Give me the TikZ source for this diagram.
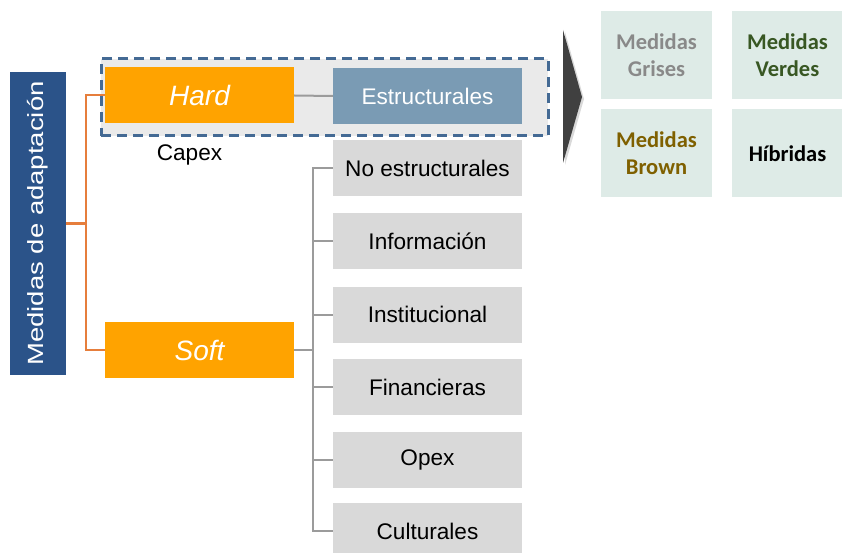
\documentclass[tikz,border=0pt]{standalone}
\usepackage{fontspec}
\setmainfont{Liberation Sans}
\newfontfamily\calibri{Carlito}
\usepackage{tikz}
\usetikzlibrary{shadows}
\definecolor{azulTitulo}{RGB}{43,83,137}
\definecolor{naranja}{RGB}{255,163,0}
\definecolor{naranjaLinea}{RGB}{230,126,60}
\definecolor{azulGris}{RGB}{122,155,180}
\definecolor{grisCaja}{RGB}{217,217,217}
\definecolor{grisFondo}{RGB}{234,234,234}
\definecolor{azulRaya}{RGB}{68,106,148}
\definecolor{grisLinea}{RGB}{155,155,155}
\definecolor{verdeAgua}{RGB}{222,235,231}
\definecolor{textoGris}{RGB}{137,137,137}
\definecolor{textoVerde}{RGB}{56,87,35}
\definecolor{textoMarron}{RGB}{127,96,0}
\definecolor{grisFlecha}{RGB}{64,64,64}

\begin{document}
\begin{tikzpicture}[x=1pt,y=-1pt,
  titulo/.style={fill=azulTitulo,text=white,minimum width=303pt,minimum height=56pt,
    inner sep=0pt,font=\fontsize{22}{26}\selectfont},
  tipo/.style={fill=naranja,text=white,minimum width=189pt,minimum height=56pt,
    inner sep=0pt,font=\fontsize{28}{32}\selectfont\itshape},
  caja/.style={fill=grisCaja,minimum width=189pt,minimum height=56pt,
    inner sep=0pt,font=\fontsize{22.6}{27}\selectfont},
  medida/.style={fill=verdeAgua,minimum width=111pt,minimum height=88pt,align=center,
    inner sep=0pt,font=\fontsize{22.5}{27}\selectfont\calibri\bfseries},
  ramaNaranja/.style={draw=naranjaLinea,line width=2pt},
  ramaGris/.style={draw=grisLinea,line width=2pt}]
\useasboundingbox (0,0) rectangle (842,553);
\clip (0,0) rectangle (842,553);

\node[titulo,rotate=90] (titulo) at (38,223.5) {\scalebox{1.25}[1]{Medidas de adaptación}};

\node[fill=grisFondo,draw=azulRaya,line width=3pt,dash pattern=on 10pt off 6pt,
  minimum width=447pt,minimum height=77pt] (grupo) at (324.5,97.5) {};
\node[tipo] (hard) at (199.5,95.5) {Hard};
\node[caja,fill=azulGris,text=white] (estr) at (427.5,96) {Estructurales};
\node[font=\fontsize{22.6}{27}\selectfont] (capex) at (189.5,155) {Capex};
\node[tipo] (soft) at (199.5,350) {Soft};

\node[caja] (noest) at (427.5,168.5) {No estructurales};
\node[caja] (info) at (427.5,241) {Información};
\node[caja] (inst) at (427.5,314.5) {Institucional};
\node[caja] (fin) at (427.5,387) {Financieras};
\node[caja] (opex) at (427.5,459.5) {Opex};
\node[caja] (cult) at (427.5,531) {Culturales};

\draw[ramaNaranja] (titulo.south) -- ++(20,0);
\draw[ramaNaranja] (hard.west) -- ++(-19,0) |- (soft.west);
\draw[ramaGris] (hard.east) -- (estr.west);
\draw[ramaGris] (soft.east) -- ++(19,0);
\draw[ramaGris] (noest.west) -- ++(-20,0) |- (cult.west);
\draw[ramaGris] (info.west) -- ++(-20,0);
\draw[ramaGris] (inst.west) -- ++(-20,0);
\draw[ramaGris] (fin.west) -- ++(-20,0);
\draw[ramaGris] (opex.west) -- ++(-20,0);

\fill[grisFlecha,drop shadow={shadow xshift=2pt,shadow yshift=-2pt,opacity=0.3}]
  (563,30) -- (582,97) -- (563,163) -- cycle;

\node[medida,text=textoGris] (grises) at (656.5,55) {Medidas\\Grises};
\node[medida,text=textoVerde] (verdes) at (787.5,55) {Medidas\\Verdes};
\node[medida,text=textoMarron] (brown) at (656.5,153.5) {Medidas\\Brown};
\node[medida,text=black] (hibridas) at (787.5,153.5) {Híbridas};
\end{tikzpicture}
\end{document}
